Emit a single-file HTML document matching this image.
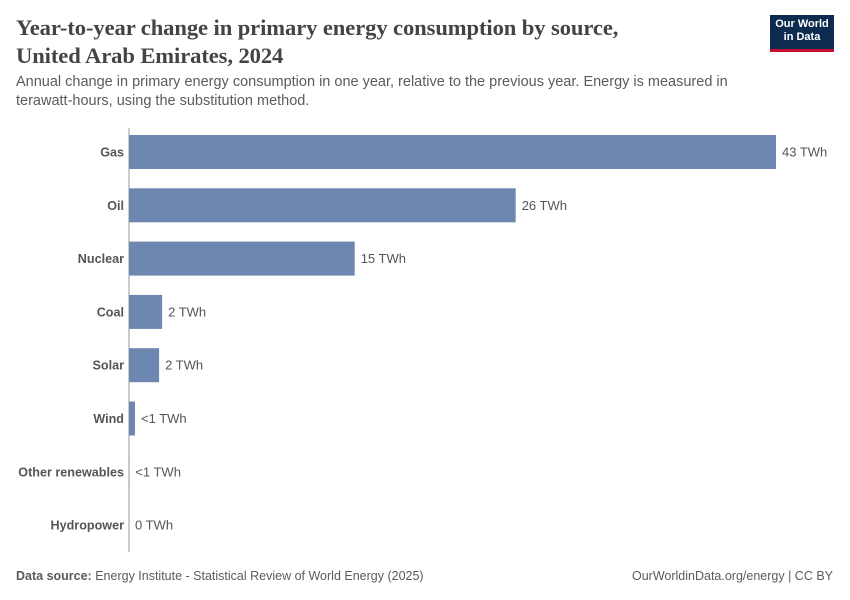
<!DOCTYPE html>
<html><head><meta charset="utf-8">
<style>
body{margin:0;background:#fff;font-family:"Liberation Sans",sans-serif;}
#wrap{position:relative;width:850px;height:600px;overflow:hidden;}
.title{position:absolute;left:16px;top:14px;font-family:"Liberation Serif",serif;font-size:22.6px;font-weight:bold;line-height:28px;color:#444;letter-spacing:-0.1px;}
.sub{position:absolute;left:16px;top:73px;font-size:14.5px;line-height:19px;color:#5b5b5b;width:760px;}
.logo{position:absolute;left:770px;top:15px;width:64px;height:37px;background:#0d2a4f;border-bottom:3px solid #c8102e;color:#fff;font-size:11px;font-weight:bold;text-align:center;line-height:13px;padding-top:3px;box-sizing:border-box;}
.foot{position:absolute;top:569px;font-size:12.5px;color:#5b5b5b;}
</style></head><body>
<div id="wrap">
<div class="title">Year-to-year change in primary energy consumption by source,<br>United Arab Emirates, 2024</div>
<div class="logo">Our World<br>in Data</div>
<div class="sub">Annual change in primary energy consumption in one year, relative to the previous year. Energy is measured in terawatt-hours, using the substitution method.</div>
<svg id="chart" width="850" height="600" style="position:absolute;left:0;top:0"></svg>
<div class="foot" style="left:16px"><b>Data source:</b> Energy Institute - Statistical Review of World Energy (2025)</div>
<div class="foot" style="right:17px">OurWorldinData.org/energy | CC BY</div>
</div>
<script>
const categories=["Gas","Oil","Nuclear","Coal","Solar","Wind","Other renewables","Hydropower"];
const values=[43.0,25.7,15.0,2.2,2.0,0.4,0.02,0];
const valueLabels=["43 TWh","26 TWh","15 TWh","2 TWh","2 TWh","<1 TWh","<1 TWh","0 TWh"];
const svg=document.getElementById('chart');
const NS='http://www.w3.org/2000/svg';
const x0=129,xMax=776,vMax=43.0;
const x=v=>x0+(v/vMax)*(xMax-x0);
const yTop=135,step=53.3,bh=34;
const y=i=>yTop+i*step;
const ax=document.createElementNS(NS,'line');
ax.setAttribute('x1',x0);ax.setAttribute('x2',x0);ax.setAttribute('y1',128);ax.setAttribute('y2',552);
ax.setAttribute('stroke','#999');ax.setAttribute('stroke-width','1');


svg.appendChild(ax);
categories.forEach((c,i)=>{
  const yy=y(i),w=x(values[i])-x0;
  const r=document.createElementNS(NS,'rect');
  r.setAttribute('x',x0);r.setAttribute('y',yy);r.setAttribute('width',Math.max(w,0));r.setAttribute('height',bh);
  r.setAttribute('fill','#6d87b0');
  
  
  svg.appendChild(r);
  const t=document.createElementNS(NS,'text');
  t.setAttribute('x',x0-5);t.setAttribute('y',yy+bh/2+4.5);t.setAttribute('text-anchor','end');
  t.setAttribute('font-size','12.6');t.setAttribute('font-weight','bold');t.setAttribute('fill','#555');
  t.setAttribute('font-family','Liberation Sans, sans-serif');
  t.textContent=c;
  
  
  svg.appendChild(t);
  const v=document.createElementNS(NS,'text');
  v.setAttribute('x',x(values[i])+6);v.setAttribute('y',yy+bh/2+4.5);
  v.setAttribute('font-size','13');v.setAttribute('fill','#555');
  v.setAttribute('font-family','Liberation Sans, sans-serif');
  v.textContent=valueLabels[i];
  
  
  svg.appendChild(v);
});
</script>
</body></html>
